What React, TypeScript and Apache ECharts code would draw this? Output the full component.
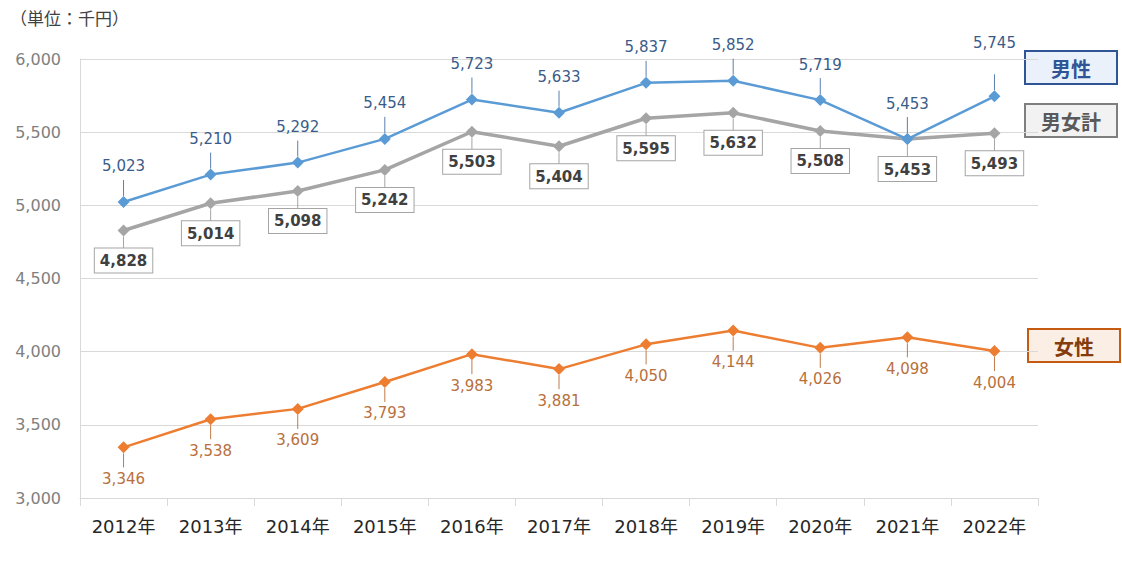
import React, { useEffect, useRef } from "react";
import * as echarts from "echarts";

const years = ["2012年", "2013年", "2014年", "2015年", "2016年", "2017年", "2018年", "2019年", "2020年", "2021年", "2022年"];
const male = [5023, 5210, 5292, 5454, 5723, 5633, 5837, 5852, 5719, 5453, 5745];
const total = [4828, 5014, 5098, 5242, 5503, 5404, 5595, 5632, 5508, 5453, 5493];
const female = [3346, 3538, 3609, 3793, 3983, 3881, 4050, 4144, 4026, 4098, 4004];
const unitLabel = "（単位：千円）";
const seriesNames = { male: "男性", total: "男女計", female: "女性" };

const FONT = "'DejaVu Sans', 'Noto Sans CJK JP', sans-serif";
const CJK = "'Noto Sans CJK JP', sans-serif";
const fmt = (v: number) => v.toLocaleString("en-US");

function leader(values: number[], color: string, a: number, b: number) {
  return {
    type: "custom",
    silent: true,
    z: 1,
    renderItem: (_p: any, api: any) => {
      const p = api.coord([api.value(0), api.value(1)]);
      return {
        type: "line",
        shape: { x1: p[0], y1: p[1] + a, x2: p[0], y2: p[1] + b },
        style: { stroke: color, lineWidth: 1 },
      };
    },
    data: values.map((v, i) => [i, v]),
  };
}

function legendBox(x: number, y: number, w: number, h: number, text: string, fill: string, stroke: string, color: string) {
  return {
    type: "group",
    children: [
      { type: "rect", shape: { x, y, width: w, height: h }, style: { fill, stroke, lineWidth: 2 } },
      {
        type: "text",
        x: x + w / 2,
        y: y + h / 2 + 1,
        style: { text, fill: color, font: `bold 20px ${CJK}`, textAlign: "center", textVerticalAlign: "middle" },
      },
    ],
  };
}

export default function App() {
  const ref = useRef<HTMLDivElement>(null);
  useEffect(() => {
    if (!ref.current) return;
    const chart = echarts.init(ref.current, null, { renderer: "svg" });
    chart.setOption({
      animation: false,
      backgroundColor: "#ffffff",
      textStyle: { fontFamily: FONT },
      grid: { left: 80, right: 84, top: 59, bottom: 64 },
      xAxis: {
        type: "category",
        data: years,
        boundaryGap: true,
        axisLine: { show: true, lineStyle: { color: "#d9d9d9" } },
        axisTick: { show: true, interval: 0, length: 8, lineStyle: { color: "#d9d9d9" } },
        axisLabel: { interval: 0, color: "#262626", fontSize: 18, margin: 19, fontFamily: FONT },
      },
      yAxis: {
        type: "value",
        min: 3000,
        max: 6000,
        interval: 500,
        axisLine: { show: true, lineStyle: { color: "#d9d9d9" } },
        axisTick: { show: false },
        splitLine: { lineStyle: { color: "#d9d9d9" } },
        axisLabel: { color: "#808080", fontSize: 16, margin: 19, fontFamily: FONT, formatter: (v: number) => fmt(v) },
      },
      graphic: [
        {
          type: "text",
          left: 10,
          top: 9,
          style: { text: unitLabel, fill: "#404040", font: `17px ${CJK}` },
        },
        legendBox(1025, 51, 92, 33, seriesNames.male, "#eaf1fa", "#2f5597", "#2f5597"),
        legendBox(1025, 104, 92, 33, seriesNames.total, "#f2f2f2", "#7f7f7f", "#595959"),
        legendBox(1028, 329, 92, 33, seriesNames.female, "#fbeee4", "#c55a11", "#843c0c"),
      ],
      series: [
        leader(male, "#5b7fae", -22, -6),
        leader(total, "#a5a5a5", 6, 18),
        leader(female, "#c07a4a", 6, 20),
        {
          name: seriesNames.total,
          type: "line",
          data: total,
          z: 3,
          symbol: "diamond",
          symbolSize: 12,
          lineStyle: { color: "#a5a5a5", width: 3.5 },
          itemStyle: { color: "#a5a5a5" },
          label: {
            show: true,
            position: "bottom",
            distance: 12,
            formatter: (p: any) => fmt(p.value),
            color: "#404040",
            fontWeight: "bold",
            fontSize: 15,
            fontFamily: FONT,
            backgroundColor: "#ffffff",
            borderColor: "#a5a5a5",
            borderWidth: 1,
            padding: [5, 5, 4, 5],
          },
        },
        {
          name: seriesNames.male,
          type: "line",
          data: male,
          z: 4,
          symbol: "diamond",
          symbolSize: 12,
          lineStyle: { color: "#5b9bd5", width: 2.5 },
          itemStyle: { color: "#5b9bd5" },
          label: {
            show: true,
            position: "top",
            distance: 22,
            formatter: (p: any) => fmt(p.value),
            color: "#3a5c8a",
            fontSize: 15,
            fontFamily: FONT,
          },
          labelLayout: (p: any) => (p.dataIndex === 10 ? { dy: -18 } : {}),
        },
        {
          name: seriesNames.female,
          type: "line",
          data: female,
          z: 4,
          symbol: "diamond",
          symbolSize: 12,
          lineStyle: { color: "#ed7d31", width: 2.5 },
          itemStyle: { color: "#ed7d31" },
          label: {
            show: true,
            position: "bottom",
            distance: 18,
            formatter: (p: any) => fmt(p.value),
            color: "#b8703c",
            fontSize: 15,
            fontFamily: FONT,
          },
        },
      ],
    });
    return () => chart.dispose();
  }, []);
  return <div ref={ref} style={{ width: 1122, height: 562, position: "absolute", left: 0, top: 0 }} />;
}
